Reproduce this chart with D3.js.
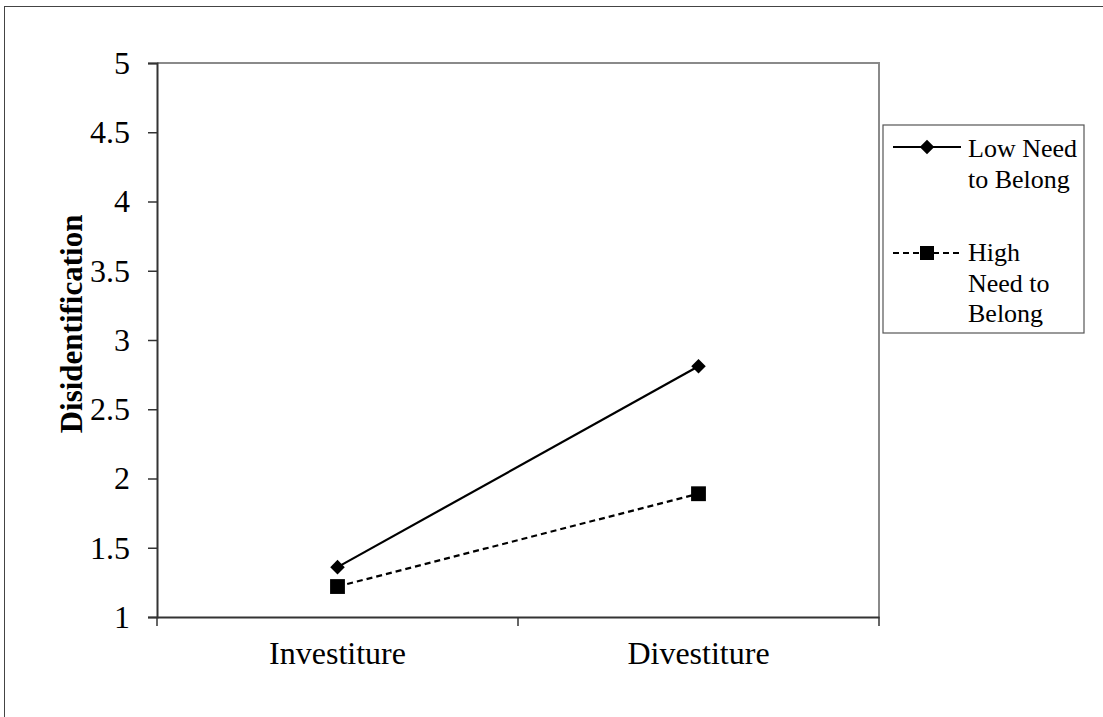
<!DOCTYPE html>
<html>
<head>
<meta charset="utf-8">
<script src="https://cdn.jsdelivr.net/npm/d3@7"></script>
<style>
  body { margin: 0; background: #fff; }
  svg, svg text { font-family: "Liberation Serif", "Times New Roman", serif; }
  svg { display: block; }
</style>
</head>
<body>
<svg id="chart" width="1103" height="717"></svg>
<script>
// chart values
const categories = ["Investiture", "Divestiture"];
const lowNeed = [1.36, 2.81];
const highNeed = [1.22, 1.89];
const yTicks = [1, 1.5, 2, 2.5, 3, 3.5, 4, 4.5, 5];
const seriesNames = [["Low Need", "to Belong"], ["High", "Need to", "Belong"]];

const svg = d3.select("#chart");

// outer chart frame (right/bottom fall off the picture)
svg.append("rect")
  .attr("x", 4.5).attr("y", 6.5)
  .attr("width", 1110).attr("height", 720)
  .attr("fill", "none").attr("stroke", "#444").attr("stroke-width", 1);

const plotL = 157, plotR = 879, plotT = 63, plotB = 617;

const x = d3.scaleBand().domain(categories).range([plotL, plotR]).padding(0);
const y = d3.scaleLinear().domain([1, 5]).range([plotB, plotT]);
const cx = d => x(d) + x.bandwidth() / 2;

// plot area border (top and right, grey)
svg.append("path")
  .attr("d", `M${plotL},${plotT}H${plotR}V${plotB}`)
  .attr("fill", "none").attr("stroke", "#8a8a8a").attr("stroke-width", 2);

// y axis
const yAxis = svg.append("g")
  .attr("transform", `translate(${plotL},0)`)
  .call(d3.axisLeft(y).tickValues(yTicks).tickSize(9).tickPadding(18).tickFormat(d => d))
  .attr("font-family", null).attr("font-size", 32);
yAxis.select(".domain").attr("stroke", "#333").attr("stroke-width", 2);
yAxis.selectAll(".tick line").attr("stroke", "#333").attr("stroke-width", 1.5);
yAxis.selectAll("text").attr("fill", "#000");

// x axis: labels centred, ticks at category boundaries
const xAxis = svg.append("g")
  .attr("transform", `translate(0,${plotB})`)
  .call(d3.axisBottom(x).tickSize(0).tickPadding(24))
  .attr("font-family", null).attr("font-size", 32);
xAxis.select(".domain").attr("stroke", "#333").attr("stroke-width", 2);
xAxis.selectAll("text").attr("fill", "#000");
const bounds = categories.map(c => x(c)).concat([plotR]);
svg.append("g").selectAll("line")
  .data(bounds)
  .enter().append("line")
  .attr("x1", d => d).attr("x2", d => d)
  .attr("y1", plotB).attr("y2", plotB + 9)
  .attr("stroke", "#333").attr("stroke-width", 1.5);

// y axis title
svg.append("text")
  .attr("transform", `translate(82,${(plotT + plotB) / 2 - 16}) rotate(-90)`)
  .attr("text-anchor", "middle")
  .attr("font-size", 31).attr("font-weight", "bold")
  .text("Disidentification");

const line = d3.line()
  .x((d, i) => cx(categories[i]))
  .y(d => y(d));

const diamond = d3.symbol().type(d3.symbolDiamond2).size(135);
const square = d3.symbol().type(d3.symbolSquare).size(220);

// low need to belong
svg.append("path").datum(lowNeed)
  .attr("d", line).attr("fill", "none")
  .attr("stroke", "#000").attr("stroke-width", 2.2);
svg.append("g").selectAll("path")
  .data(lowNeed).enter().append("path")
  .attr("d", diamond)
  .attr("transform", (d, i) => `translate(${cx(categories[i])},${y(d)})`)
  .attr("fill", "#000");

// high need to belong
svg.append("path").datum(highNeed)
  .attr("d", line).attr("fill", "none")
  .attr("stroke", "#000").attr("stroke-width", 2.2)
  .attr("stroke-dasharray", "6,4");
svg.append("g").selectAll("path")
  .data(highNeed).enter().append("path")
  .attr("d", square)
  .attr("transform", (d, i) => `translate(${cx(categories[i])},${y(d)})`)
  .attr("fill", "#000");

// legend
const legend = svg.append("g");
legend.append("rect")
  .attr("x", 883).attr("y", 125)
  .attr("width", 201).attr("height", 208)
  .attr("fill", "#fff").attr("stroke", "#555").attr("stroke-width", 1.2);

const legendItems = [
  { name: seriesNames[0], y: 147, dash: null, sym: d3.symbol().type(d3.symbolDiamond2).size(135), first: 157 },
  { name: seriesNames[1], y: 253, dash: "6,4", sym: d3.symbol().type(d3.symbolSquare).size(196), first: 261 }
];
legendItems.forEach(it => {
  legend.append("line")
    .attr("x1", 893).attr("x2", 961)
    .attr("y1", it.y).attr("y2", it.y)
    .attr("stroke", "#000").attr("stroke-width", 2.2)
    .attr("stroke-dasharray", it.dash);
  legend.append("path")
    .attr("d", it.sym)
    .attr("transform", `translate(927,${it.y})`)
    .attr("fill", "#000");
  const t = legend.append("text")
    .attr("x", 968).attr("y", it.first)
    .attr("font-size", 26);
  it.name.forEach((s, i) => {
    t.append("tspan").attr("x", 968).attr("dy", i === 0 ? 0 : 30.5).text(s);
  });
});
</script>
</body>
</html>
